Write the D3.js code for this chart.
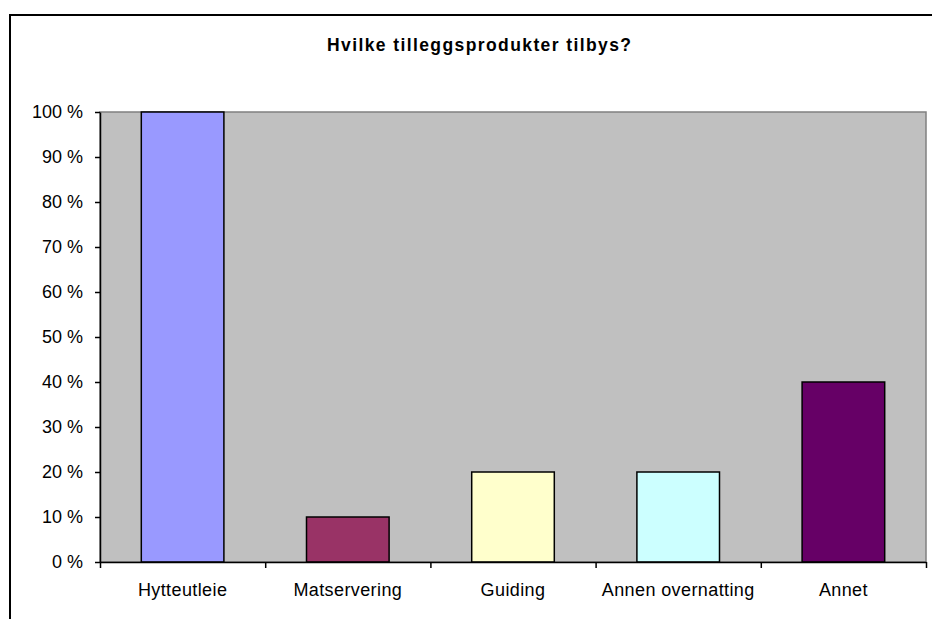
<!DOCTYPE html>
<html>
<head>
<meta charset="utf-8">
<script src="https://cdn.jsdelivr.net/npm/d3@7"></script>
<style>
  body { margin: 0; background: #fff; }
  text { font-family: "Liberation Sans", Arial, sans-serif; fill: #000; }
</style>
</head>
<body>
<svg id="chart"></svg>
<script>
var categories = ["Hytteutleie", "Matservering", "Guiding", "Annen overnatting", "Annet"];
var values = [100, 10, 20, 20, 40];
var barColors = ["#9999FF", "#993366", "#FFFFCC", "#CCFFFF", "#660066"];
var yTicks = [0, 10, 20, 30, 40, 50, 60, 70, 80, 90, 100];
var title = "Hvilke tilleggsprodukter tilbys?";

var width = 932, height = 619;
var plot = { left: 100, top: 112, right: 926, bottom: 562 };

var svg = d3.select("#chart")
  .attr("width", width)
  .attr("height", height);

// chart area border (runs off the right and bottom edge)
svg.append("rect")
  .attr("x", 10).attr("y", 15)
  .attr("width", 960).attr("height", 640)
  .attr("fill", "#fff")
  .attr("stroke", "#000")
  .attr("stroke-width", 2);

svg.append("text")
  .attr("x", 479)
  .attr("y", 51)
  .attr("text-anchor", "middle")
  .attr("font-size", 17.5)
  .attr("font-weight", "bold")
  .attr("textLength", 304)
  .attr("lengthAdjust", "spacing")
  .text(title);

var x = d3.scaleBand()
  .domain(categories)
  .range([plot.left, plot.right])
  .paddingInner(0.5)
  .paddingOuter(0.25);

var xEdges = d3.scaleLinear()
  .domain([0, categories.length])
  .range([plot.left, plot.right]);

var y = d3.scaleLinear()
  .domain([0, 100])
  .range([plot.bottom, plot.top]);

// plot area
svg.append("rect")
  .attr("x", plot.left).attr("y", plot.top)
  .attr("width", plot.right - plot.left)
  .attr("height", plot.bottom - plot.top)
  .attr("fill", "#C0C0C0")
  .attr("stroke", "#808080")
  .attr("stroke-width", 1.5);

svg.selectAll("rect.bar")
  .data(values)
  .enter().append("rect")
  .attr("class", "bar")
  .attr("x", function (d, i) { return x(categories[i]); })
  .attr("y", function (d) { return y(d); })
  .attr("width", x.bandwidth())
  .attr("height", function (d) { return y(0) - y(d); })
  .attr("fill", function (d, i) { return barColors[i]; })
  .attr("stroke", "#000")
  .attr("stroke-width", 1.5);

var yAxis = svg.append("g")
  .attr("transform", "translate(" + plot.left + ",0)")
  .call(d3.axisLeft(y).tickValues(yTicks)
    .tickFormat(function (d) { return d + " %"; })
    .tickSize(5).tickSizeOuter(0).tickPadding(12));

var xTicks = svg.append("g")
  .attr("transform", "translate(0," + plot.bottom + ")")
  .call(d3.axisBottom(xEdges).tickValues(d3.range(categories.length + 1))
    .tickFormat("").tickSize(6).tickSizeOuter(0));

var xLabels = svg.append("g")
  .attr("transform", "translate(0," + plot.bottom + ")")
  .call(d3.axisBottom(x).tickSize(0).tickPadding(21));
xLabels.select(".domain").remove();

svg.selectAll(".tick text")
  .attr("font-family", "'Liberation Sans', Arial, sans-serif")
  .attr("font-size", 18)
  .attr("fill", "#000");
xLabels.selectAll(".tick text").attr("letter-spacing", 0.4);

svg.selectAll(".domain, .tick line")
  .attr("stroke", "#000")
  .attr("stroke-width", 1.5);
</script>
</body>
</html>
